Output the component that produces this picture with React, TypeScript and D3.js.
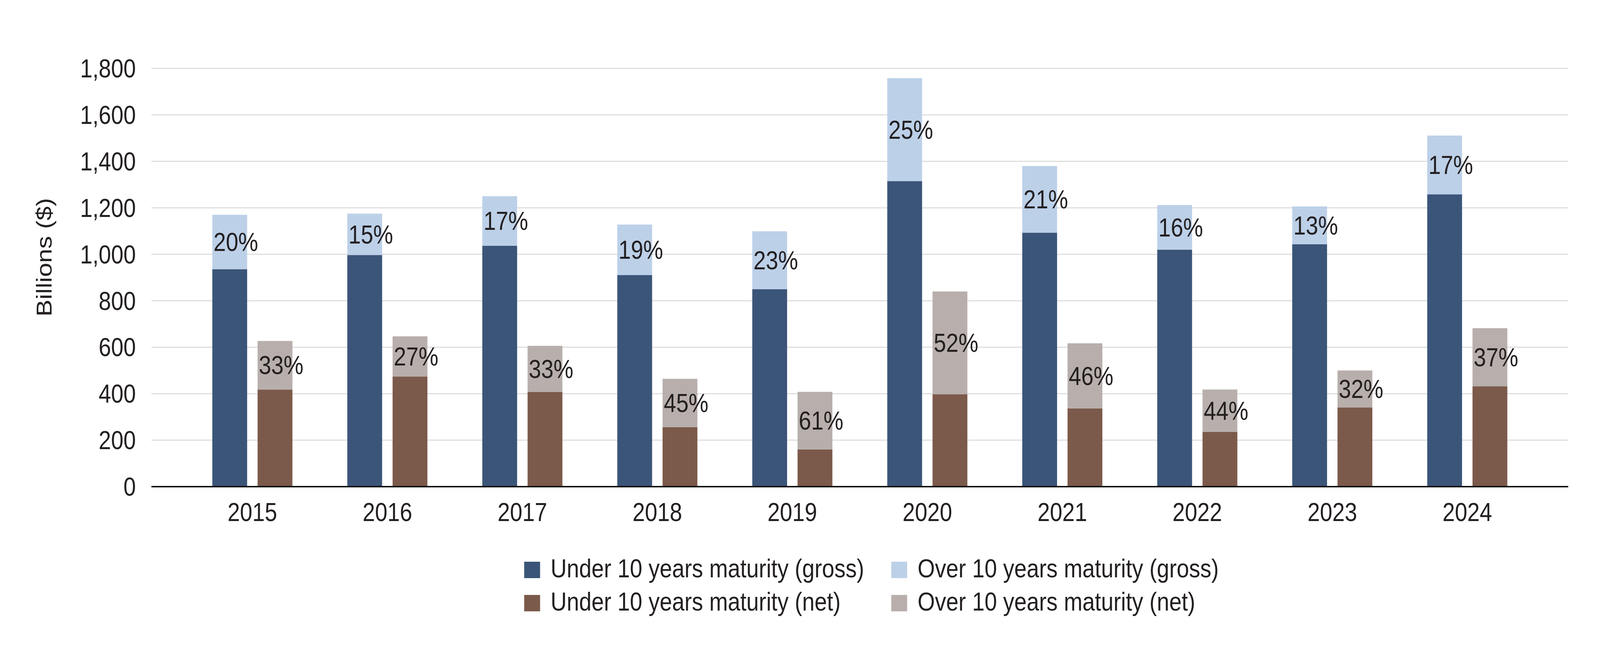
import React from 'react';
import * as d3 from 'd3';

const years = ['2015', '2016', '2017', '2018', '2019', '2020', '2021', '2022', '2023', '2024'];
const grossUnder = [936, 997, 1037, 911, 850, 1315, 1093, 1020, 1043, 1258];
const grossOver = [234, 178, 213, 217, 249, 443, 287, 192, 163, 253];
const netUnder = [418, 474, 408, 256, 160, 398, 337, 236, 341, 432];
const netOver = [209, 173, 198, 208, 248, 442, 280, 182, 159, 250];
const grossPct = ['20%', '15%', '17%', '19%', '23%', '25%', '21%', '16%', '13%', '17%'];
const netPct = ['33%', '27%', '33%', '45%', '61%', '52%', '46%', '44%', '32%', '37%'];
const yTicks = [0, 200, 400, 600, 800, 1000, 1200, 1400, 1600, 1800];
const legendItems = [
  { label: 'Under 10 years maturity (gross)', color: '#3B5579' },
  { label: 'Over 10 years maturity (gross)', color: '#BCD0E8' },
  { label: 'Under 10 years maturity (net)', color: '#7B5A4B' },
  { label: 'Over 10 years maturity (net)', color: '#B8AFAC' },
];

const W = 4734;
const H = 1668;
const FONT = '"Liberation Sans", Arial, sans-serif';
const TEXT = '#231F20';

export default function App() {
  const y = d3.scaleLinear().domain([0, 1800]).range([1245, 175]);
  const x = d3.scaleBand<string>().domain(years).range([547, 4541]).padding(0);
  const sub = d3
    .scaleBand<string>()
    .domain(['gross', 'net'])
    .range([0, x.step()])
    .paddingInner(0.231)
    .paddingOuter(0.606);
  const fmt = d3.format(',');
  const axisLeft = 448;
  const axisRight = 4640;

  const series = [
    { key: 'gross', under: grossUnder, over: grossOver, pct: grossPct, cUnder: legendItems[0].color, cOver: legendItems[1].color },
    { key: 'net', under: netUnder, over: netOver, pct: netPct, cUnder: legendItems[2].color, cOver: legendItems[3].color },
  ];

  const legendPos = [
    { sx: 1551, tx: 1629, y: 1477 },
    { sx: 2637, tx: 2715, y: 1477 },
    { sx: 1551, tx: 1629, y: 1562 },
    { sx: 2637, tx: 2715, y: 1562 },
  ];

  return (
    <svg
      viewBox={`0 0 ${W} ${H}`}
      preserveAspectRatio="none"
      style={{ position: 'fixed', left: 0, top: 0, width: '100vw', height: '100vh', background: '#fff', display: 'block' }}
      fontFamily={FONT}
    >
      <rect x={0} y={0} width={W} height={H} fill="#fff" />
      {yTicks.map((t) =>
        t === 0 ? null : (
          <line key={t} x1={axisLeft} x2={axisRight} y1={y(t)} y2={y(t)} stroke="#D9D9D9" strokeWidth={2.5} />
        )
      )}
      {yTicks.map((t) => (
        <text key={'l' + t} x={402} y={y(t)} dy="0.35em" textAnchor="end" fontSize={66} fill={TEXT}>
          {fmt(t)}
        </text>
      ))}
      <text transform={`translate(153,658) rotate(-90)`} textAnchor="middle" fontSize={65} fill={TEXT}>
        Billions ($)
      </text>
      {years.map((yr, i) => (
        <g key={yr} transform={`translate(${x(yr)},0)`}>
          {series.map((s) => {
            const bx = sub(s.key) as number;
            const bw = sub.bandwidth();
            const u = s.under[i];
            const o = s.over[i];
            return (
              <g key={s.key}>
                <rect x={bx} width={bw} y={y(u)} height={y(0) - y(u)} fill={s.cUnder} />
                <rect x={bx} width={bw} y={y(u + o)} height={y(u) - y(u + o)} fill={s.cOver} />
                <text
                  x={bx + bw / 2 + 18}
                  y={(y(u) + y(u + o)) / 2}
                  dy="0.35em"
                  textAnchor="middle"
                  fontSize={66}
                  fill={TEXT}
                >
                  {s.pct[i]}
                </text>
              </g>
            );
          })}
          <text x={x.bandwidth() / 2} y={1333} textAnchor="middle" fontSize={66} fill={TEXT}>
            {yr}
          </text>
        </g>
      ))}
      <line x1={axisLeft} x2={axisRight} y1={y(0)} y2={y(0)} stroke="#000" strokeWidth={3.5} />
      {legendItems.map((it, i) => (
        <g key={it.label}>
          <rect x={legendPos[i].sx} y={legendPos[i].y - 40} width={47} height={42} fill={it.color} />
          <text x={legendPos[i].tx} y={legendPos[i].y} fontSize={66} fill={TEXT}>
            {it.label}
          </text>
        </g>
      ))}
    </svg>
  );
}
